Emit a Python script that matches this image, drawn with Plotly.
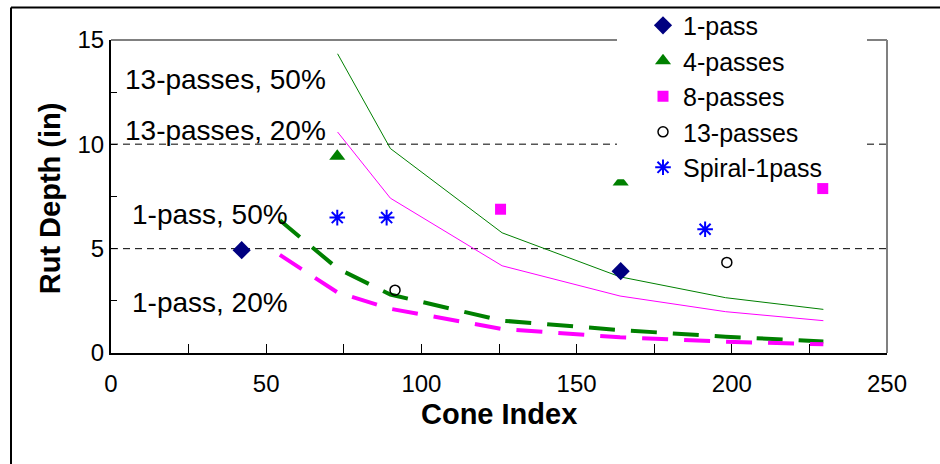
import plotly.graph_objects as go

# ---------------- data ----------------
pass1_x = [42.1, 164.2]
pass1_y = [4.93, 3.92]
pass4_x = [72.9, 164.2]
pass4_y = [9.43, 8.2]
pass8_x = [125.5, 229.3]
pass8_y = [6.89, 7.88]
pass13_x = [91.5, 198.4]
pass13_y = [3.01, 4.34]
spiral_x = [72.9, 88.8, 191.4]
spiral_y = [6.49, 6.49, 5.93]

curve13_x = [73, 90, 126, 164, 198, 229.5]
curve13_50 = [14.34, 9.8, 5.76, 3.65, 2.65, 2.09]
curve13_20 = [10.59, 7.42, 4.18, 2.73, 1.98, 1.55]

curve1_x = [54.4, 73, 90, 126, 164, 198, 229.5]
curve1_50 = [6.36, 4.05, 2.8, 1.55, 1.1, 0.78, 0.55]
curve1_20 = [4.7, 2.9, 2.12, 1.15, 0.75, 0.54, 0.42]

ref_levels = [5, 10]

x_tickvals = [0, 25, 50, 75, 100, 125, 150, 175, 200, 225, 250]
x_ticktext = ["0", "", "50", "", "100", "", "150", "", "200", "", "250"]
y_tickvals = [0, 2.5, 5, 7.5, 10, 12.5, 15]
y_ticktext = ["0", "", "5", "", "10", "", "15"]

curve_labels = ["13-passes, 50%", "13-passes, 20%", "1-pass, 50%", "1-pass, 20%"]

# ---------------- layout geometry ----------------
W, H = 940, 464
L, R, T, B = 111, 887, 39.5, 353


def px(xp):
    return (xp - L) / (R - L)


def py(yp):
    return (B - yp) / (B - T)


FONT = "Liberation Sans, Arial, sans-serif"

fig = go.Figure()

# curves
fig.add_trace(go.Scatter(x=curve13_x, y=curve13_50, mode="lines",
                         line=dict(color="#008000", width=1), showlegend=False, hoverinfo="skip"))
fig.add_trace(go.Scatter(x=curve13_x, y=curve13_20, mode="lines",
                         line=dict(color="#FF00FF", width=1), showlegend=False, hoverinfo="skip"))
fig.add_trace(go.Scatter(x=curve1_x, y=curve1_50, mode="lines",
                         line=dict(color="#008000", width=4, dash="26px,16px"), showlegend=False, hoverinfo="skip"))
fig.add_trace(go.Scatter(x=curve1_x, y=curve1_20, mode="lines",
                         line=dict(color="#FF00FF", width=4, dash="26px,16px"), showlegend=False, hoverinfo="skip"))

# markers
fig.add_trace(go.Scatter(x=pass1_x, y=pass1_y, mode="markers", name="1-pass",
                         marker=dict(symbol="diamond", size=14, color="#000080")))
fig.add_trace(go.Scatter(x=pass4_x, y=pass4_y, mode="markers", name="4-passes",
                         marker=dict(symbol="triangle-up", size=14, color="#008000")))
fig.add_trace(go.Scatter(x=pass8_x, y=pass8_y, mode="markers", name="8-passes",
                         marker=dict(symbol="square", size=11, color="#FF00FF")))
fig.add_trace(go.Scatter(x=pass13_x, y=pass13_y, mode="markers", name="13-passes",
                         marker=dict(symbol="circle-open", size=10, color="black",
                                     line=dict(width=1.5, color="black"))))
fig.add_trace(go.Scatter(x=spiral_x, y=spiral_y, mode="markers", name="Spiral-1pass",
                         marker=dict(symbol="asterisk-open", size=13, color="#0000FF",
                                     line=dict(width=2, color="#0000FF"))))

shapes = []
# reference dashed lines
for lv, col, w in zip(ref_levels, ["black", "#555555"], [1, 1.5]):
    shapes.append(dict(type="line", xref="paper", yref="y", x0=0, x1=1, y0=lv, y1=lv,
                       line=dict(color=col, width=w, dash="7px,5px"), layer="below"))
# gray top and right frame
shapes.append(dict(type="line", xref="paper", yref="paper", x0=0, x1=1, y0=1, y1=1,
                   line=dict(color="#808080", width=2), layer="above"))
shapes.append(dict(type="line", xref="paper", yref="paper", x0=1, x1=1, y0=0, y1=1,
                   line=dict(color="#808080", width=2), layer="above"))
# legend white box
shapes.append(dict(type="rect", xref="paper", yref="paper", x0=px(617), x1=px(867),
                   y0=py(179), y1=py(0), fillcolor="white", line=dict(width=0), layer="above"))
# outer chart frame (top and left)
shapes.append(dict(type="line", xref="paper", yref="paper", x0=px(11), x1=px(960),
                   y0=py(7), y1=py(7), line=dict(color="black", width=2), layer="above"))
shapes.append(dict(type="line", xref="paper", yref="paper", x0=px(11), x1=px(11),
                   y0=py(480), y1=py(7), line=dict(color="black", width=2), layer="above"))

annotations = []
label_pos = [(123, 79), (123, 130), (130, 214), (130, 302)]
for txt, (ax, ay) in zip(curve_labels, label_pos):
    annotations.append(dict(text=txt, xref="paper", yref="paper", x=px(ax), y=py(ay),
                            xanchor="left", yanchor="middle", showarrow=False,
                            font=dict(family=FONT, size=28, color="black")))
# axis titles
annotations.append(dict(text="<b>Cone Index</b>", xref="paper", yref="paper",
                        x=px(499), y=py(414), xanchor="center", yanchor="middle",
                        showarrow=False, font=dict(family=FONT, size=29, color="black")))
annotations.append(dict(text="<b>Rut Depth (in)</b>", xref="paper", yref="paper",
                        x=px(50), y=py(198), xanchor="center", yanchor="middle", textangle=-90,
                        showarrow=False, font=dict(family=FONT, size=29, color="black")))

fig.update_layout(
    width=W, height=H,
    margin=dict(l=L, r=W - R, t=T, b=H - B, pad=0, autoexpand=False),
    paper_bgcolor="white", plot_bgcolor="white",
    font=dict(family=FONT, size=24, color="black"),
    shapes=shapes, annotations=annotations,
    showlegend=True,
    legend=dict(x=px(643), y=py(2), xanchor="left", yanchor="top",
                bgcolor="rgba(0,0,0,0)", borderwidth=0,
                font=dict(family=FONT, size=25, color="black"),
                itemclick=False),
    xaxis=dict(range=[0, 250], tickvals=x_tickvals, ticktext=x_ticktext,
               ticks="inside", ticklen=9, tickwidth=1, tickcolor="black",
               showline=True, linecolor="black", linewidth=2, showgrid=False,
               zeroline=False, tickfont=dict(family=FONT, size=24), ticklabelstandoff=8),
    yaxis=dict(range=[0, 15], tickvals=y_tickvals, ticktext=y_ticktext,
               ticks="inside", ticklen=6, tickwidth=1, tickcolor="black",
               showline=True, linecolor="black", linewidth=2, showgrid=False,
               zeroline=False, tickfont=dict(family=FONT, size=24), ticklabelstandoff=0),
)

fig.write_html("out.html")
